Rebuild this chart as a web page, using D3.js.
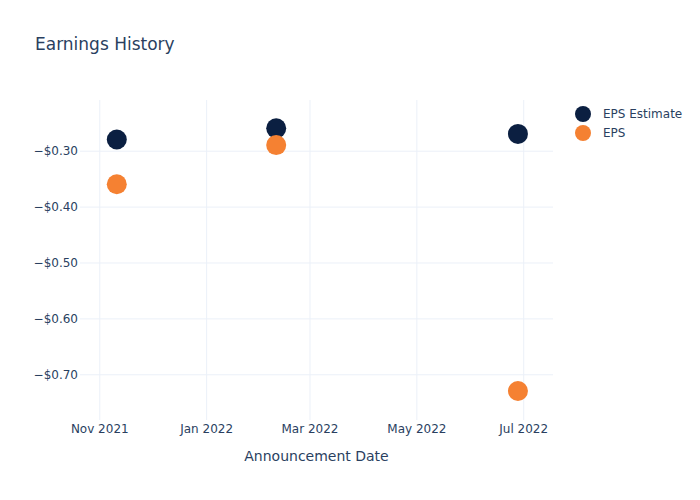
<!DOCTYPE html>
<html>
<head>
<meta charset="utf-8">
<script src="https://cdn.jsdelivr.net/npm/d3@7"></script>
<style>
  body { margin: 0; background: #fff; }
  svg { font-family: "DejaVu Sans", Verdana, sans-serif; }
</style>
</head>
<body>
<svg id="chart" width="700" height="500"></svg>
<script>
const dates = ["2021-11-11", "2022-02-10", "2022-06-28"];
const epsEstimate = [-0.28, -0.26, -0.27];
const epsActual = [-0.36, -0.29, -0.73];
const seriesNames = ["EPS Estimate", "EPS"];
const seriesColors = ["#0b1f41", "#f58132"];
const yTicks = [-0.30, -0.40, -0.50, -0.60, -0.70];
const xTicks = ["2021-11-01", "2022-01-01", "2022-03-01", "2022-05-01", "2022-07-01"];
const xDomain = ["2021-10-21", "2022-07-18"];
const yDomain = [-0.7818, -0.2093];

const parse = d3.timeParse("%Y-%m-%d");
const svg = d3.select("#chart");
const m = { l: 80, r: 147, t: 100, b: 80 };
const W = 700, H = 500;
const textColor = "#2a3f5f", gridColor = "#ebf0f8";

const x = d3.scaleTime().domain(xDomain.map(parse)).range([m.l, W - m.r]);
const y = d3.scaleLinear().domain(yDomain).range([H - m.b, m.t]);

// grid
const xAxis = d3.axisBottom(x).tickValues(xTicks.map(parse))
  .tickFormat(d3.timeFormat("%b %Y")).tickSize(-(H - m.t - m.b)).tickPadding(4);
const gx = svg.append("g").attr("transform", `translate(0,${H - m.b})`).call(xAxis);
gx.select(".domain").remove();
gx.selectAll(".tick line").attr("stroke", gridColor);
gx.selectAll(".tick text").attr("fill", textColor).attr("font-size", 12)
  .attr("font-family", "DejaVu Sans, sans-serif");

const fmt = v => "\u2212$" + Math.abs(v).toFixed(2);
const yAxis = d3.axisLeft(y).tickValues(yTicks).tickFormat(fmt)
  .tickSize(-(W - m.l - m.r)).tickPadding(2);
const gy = svg.append("g").attr("transform", `translate(${m.l},0)`).call(yAxis);
gy.select(".domain").remove();
gy.selectAll(".tick line").attr("stroke", gridColor);
gy.selectAll(".tick text").attr("fill", textColor).attr("font-size", 12)
  .attr("font-family", "DejaVu Sans, sans-serif");

// points
const series = [epsEstimate, epsActual];
series.forEach((vals, si) => {
  svg.append("g").selectAll("circle").data(vals).join("circle")
    .attr("cx", (d, i) => x(parse(dates[i])))
    .attr("cy", d => y(d))
    .attr("r", 10)
    .attr("fill", seriesColors[si]);
});

// title
svg.append("text").attr("x", 35).attr("y", 50).attr("fill", textColor)
  .attr("font-size", 17).text("Earnings History");

// x axis title
svg.append("text").attr("x", (m.l + W - m.r) / 2).attr("y", 461)
  .attr("text-anchor", "middle").attr("fill", textColor).attr("font-size", 14)
  .text("Announcement Date");

// legend
const lg = svg.append("g");
seriesNames.forEach((name, i) => {
  lg.append("circle").attr("cx", 583).attr("cy", 114 + i * 19).attr("r", 8)
    .attr("fill", seriesColors[i]);
  lg.append("text").attr("x", 603).attr("y", 118 + i * 19).attr("fill", textColor)
    .attr("font-size", 12).text(name);
});
</script>
</body>
</html>
